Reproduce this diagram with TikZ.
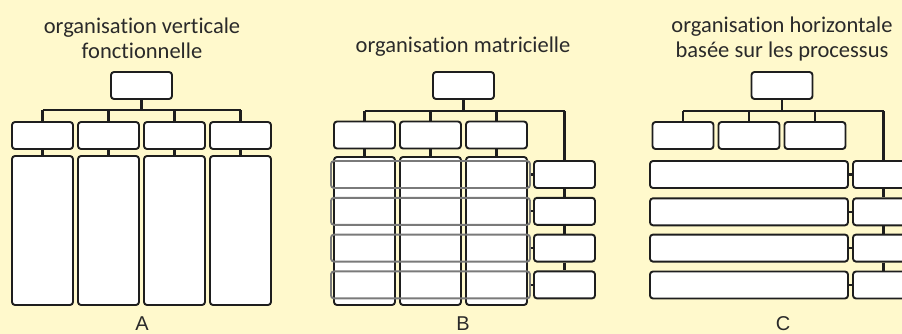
\documentclass[tikz,border=0pt]{standalone}
\usepackage{fontspec}
\setmainfont{Carlito}[Ligatures={NoCommon,NoContextual}]
\newfontfamily\labfont{Liberation Sans}
\definecolor{bgc}{HTML}{FFF9CC}
\definecolor{ink}{HTML}{1E1E1E}
\definecolor{txt}{HTML}{2A2A2A}
\definecolor{grayrow}{HTML}{7A7A7A}
\tikzset{
  box/.style={draw=ink, fill=white, line width=1.9pt, rounded corners=3pt, inner sep=0pt, minimum width=61pt, minimum height=27pt},
  tallbox/.style={box, minimum height=149pt},
  rowbox/.style={draw=grayrow, line width=1.9pt, rounded corners=3pt, inner sep=0pt, minimum height=27pt},
  wrow/.style={box, minimum width=198pt},
  conn/.style={draw=ink, line width=2.2pt},
  title/.style={font=\fontsize{22.5}{25}\selectfont, text=txt, align=center, inner sep=0pt},
  lab/.style={font=\labfont\fontsize{20}{23}\selectfont, text=txt, inner sep=0pt}
}
\begin{document}
\begin{tikzpicture}[x=1pt, y=-1pt]
\fill[bgc] (0,0) rectangle (902,334);
\useasboundingbox (0,0) rectangle (902,334);

% ---------- Panel A ----------
\node[title] (tA) at (142,38.5) {organisation verticale\\fonctionnelle};
\node[box] (topA) at (141.5,85.5) {};
\coordinate (busA) at (141.5,110);
\foreach \i/\x in {1/42.5,2/108.5,3/174.5,4/240.5}{
  \node[box] (a\i) at (\x,135.5) {};
  \node[tallbox] (ta\i) at (\x,230.5) {};
  \draw[conn] (a\i.north) -- (a\i.north |- busA);
  \draw[conn] (a\i.south) -- (ta\i.north);
}
\draw[conn] (topA.south) -- (busA);
\draw[conn] (a1.north |- busA) -- (a4.north |- busA);
\node[lab] (lA) at (142,323.5) {A};

% ---------- Panel B ----------
\node[title] (tB) at (463,47) {organisation matricielle};
\node[box] (topB) at (463.5,85.5) {};
\coordinate (busB) at (463.5,111);
\foreach \i/\x in {1/364.5,2/430.5,3/496.5}{
  \node[box] (b\i) at (\x,135) {};
  \node[tallbox, minimum height=148pt] (tb\i) at (\x,231) {};
  \draw[conn] (b\i.north) -- (b\i.north |- busB);
  \draw[conn] (b\i.south) -- (tb\i.north);
}
\foreach \j/\y in {1/174.5,2/211.3,3/248.1,4/284.9}{
  \node[box] (rb\j) at (564.5,\y) {};
  \node[rowbox, minimum width=199pt] (gb\j) at (430.5,\y) {};
  \draw[conn] (gb\j.east) -- (rb\j.west);
}
\coordinate (busBr) at (564.5,111);
\draw[conn] (topB.south) -- (busB);
\draw[conn] (b1.north |- busB) -- (busBr);
\draw[conn] (busBr) -- (rb1.north);
\draw[conn] (rb1.south) -- (rb2.north);
\draw[conn] (rb2.south) -- (rb3.north);
\draw[conn] (rb3.south) -- (rb4.north);
\node[lab] (lB) at (463,323.5) {B};

% ---------- Panel C ----------
\node[title] (tC) at (782,39) {organisation horizontale\\basée sur les processus};
\node[box] (topC) at (782,85.5) {};
\coordinate (busC) at (782,111);
\foreach \i/\x in {1/683,2/749,3/815}{
  \node[box] (c\i) at (\x,135.5) {};
  \draw[conn] (c\i.north) -- (c\i.north |- busC);
}
\foreach \j/\y in {1/174.5,2/211.8,3/248.1,4/285}{
  \node[box] (rc\j) at (883.5,\y) {};
  \node[wrow] (wc\j) at (749,\y) {};
  \draw[conn] (wc\j.east) -- (rc\j.west);
}
\coordinate (busCr) at (883.5,111);
\draw[conn] (topC.south) -- (busC);
\draw[conn] (c1.north |- busC) -- (busCr);
\draw[conn] (busCr) -- (rc1.north);
\draw[conn] (rc1.south) -- (rc2.north);
\draw[conn] (rc2.south) -- (rc3.north);
\draw[conn] (rc3.south) -- (rc4.north);
\node[lab] (lC) at (783,323.5) {C};
\end{tikzpicture}
\end{document}
